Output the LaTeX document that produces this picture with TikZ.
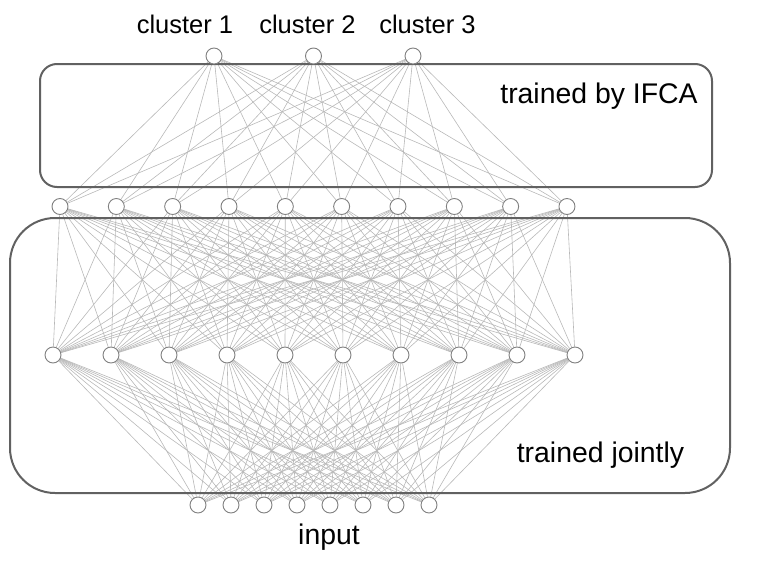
\documentclass[tikz,border=0pt]{standalone}
\usepackage{fontspec}
\setmainfont{Liberation Sans}
\usetikzlibrary{backgrounds}
\begin{document}
\begin{tikzpicture}[x=1pt,y=-1pt,
  neuron/.style={circle,draw=black!50,fill=white,line width=0.9pt,minimum size=16pt,inner sep=0pt},
  conn/.style={draw=black!28,line width=0.6pt},
  region/.style={draw=black!62,line width=2pt},
  biglabel/.style={font=\fontsize{28.4}{34}\selectfont,inner sep=0pt,anchor=base},
  clabel/.style={font=\fontsize{25.5}{30}\selectfont,inner sep=0pt,anchor=base}]
\useasboundingbox (0,0) rectangle (768,562);
% nodes
\foreach \i in {1,2,3}{
  \pgfmathsetmacro\xx{214+99.5*(\i-1)}
  \node[neuron] (c\i) at (\xx,56) {};
}
\foreach \i in {1,...,10}{
  \pgfmathsetmacro\xx{60+56.33*(\i-1)}
  \node[neuron] (h\i) at (\xx,206.5) {};
  \pgfmathsetmacro\yy{53+58*(\i-1)}
  \node[neuron] (g\i) at (\yy,355) {};
}
\foreach \i in {1,...,8}{
  \pgfmathsetmacro\xx{198+33*(\i-1)}
  \node[neuron] (in\i) at (\xx,505) {};
}
\begin{scope}[on background layer]
% connections
\foreach \i in {1,2,3}{\foreach \j in {1,...,10}{\draw[conn] (c\i) -- (h\j);}}
\foreach \i in {1,...,10}{\foreach \j in {1,...,10}{\draw[conn] (h\i) -- (g\j);}}
\foreach \i in {1,...,10}{\foreach \j in {1,...,8}{\draw[conn] (g\i) -- (in\j);}}
% boxes
\draw[region,rounded corners=17pt] (40,64) rectangle (712,187);
\draw[region,rounded corners=45pt] (10,218) rectangle (730,493);
\end{scope}
% labels
\node[clabel] (l1) at (185,33) {cluster 1};
\node[clabel] (l2) at (307.5,33) {cluster 2};
\node[clabel] (l3) at (427.5,33) {cluster 3};
\node[biglabel] (ifca) at (599,103) {trained by IFCA};
\node[biglabel] (joint) at (600.5,462) {trained jointly};
\node[biglabel] (inp) at (329,544) {input};
\end{tikzpicture}
\end{document}
